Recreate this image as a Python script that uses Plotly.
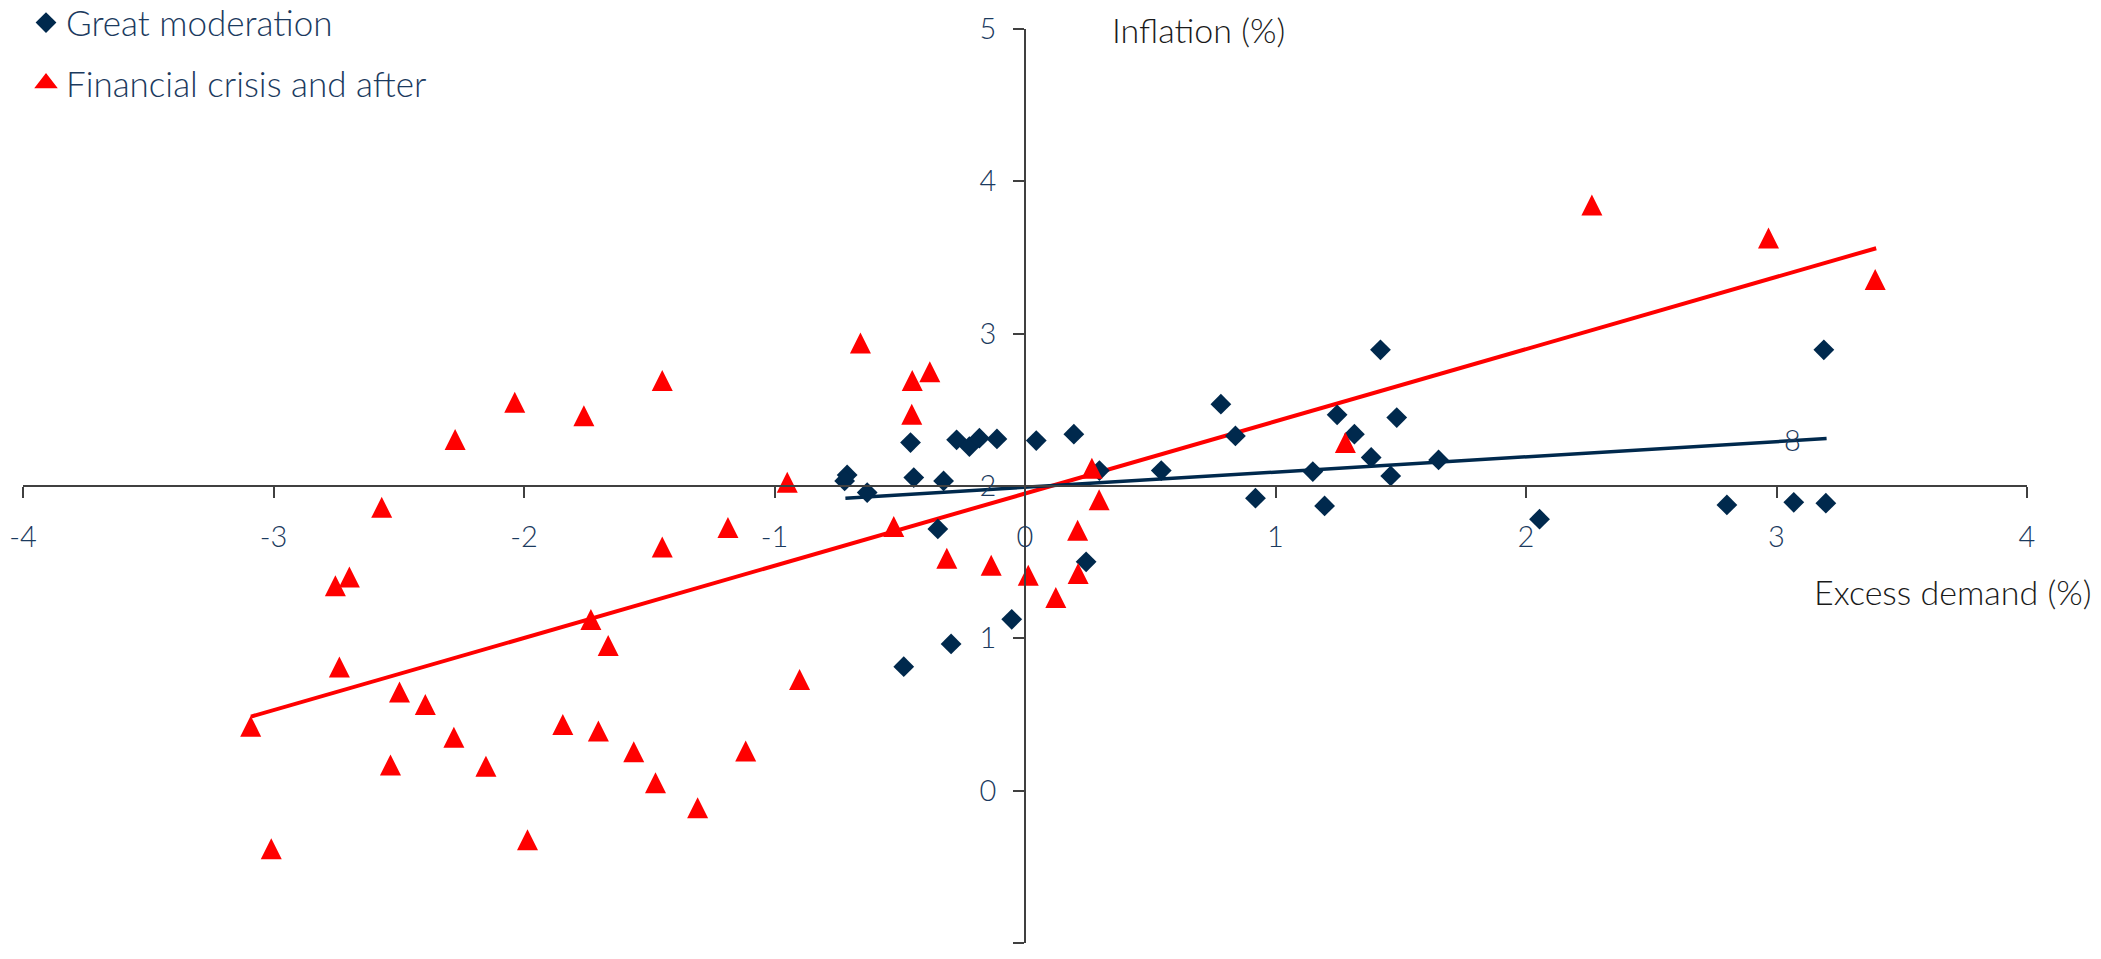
import plotly.graph_objects as go

# Great moderation: excess demand (%) vs inflation (%)
gm_excess = [-0.71, -0.72, -0.63, -0.457, -0.444, -0.325, -0.273, -0.222, -0.182, -0.112,
             -0.348, -0.484, -0.295, -0.053, 0.045, 0.195, 0.244, 0.297, 0.544, 0.782,
             0.84, 0.92, 1.149, 1.196, 1.246, 1.315, 1.382, 1.419, 1.46, 1.484,
             1.651, 2.054, 2.802, 3.069, 3.197, 3.189]
gm_inflation = [2.073, 2.033, 1.957, 2.285, 2.055, 2.033, 2.303, 2.259, 2.314, 2.309,
                1.718, 0.814, 0.963, 1.125, 2.298, 2.34, 1.502, 2.101, 2.101, 2.537,
                2.329, 1.92, 2.095, 1.869, 2.467, 2.34, 2.187, 2.894, 2.066, 2.449,
                2.171, 1.782, 1.876, 1.893, 1.887, 2.894]

# Financial crisis and after
fc_excess = [-3.091, -3.009, -2.753, -2.737, -2.697, -2.568, -2.533, -2.497, -2.394, -2.28,
             -2.275, -2.152, -2.037, -1.986, -1.845, -1.761, -1.733, -1.703, -1.664, -1.562,
             -1.475, -1.448, -1.448, -1.307, -1.186, -1.115, -0.949, -0.9, -0.657, -0.524,
             -0.452, -0.45, -0.38, -0.312, -0.135, 0.013, 0.123, 0.21, 0.212, 0.267,
             0.296, 1.279, 2.263, 2.968, 3.394]
fc_inflation = [0.423, -0.381, 1.345, 0.811, 1.402, 1.86, 0.169, 0.647, 0.566, 0.351,
                2.306, 0.161, 2.549, -0.322, 0.435, 2.461, 1.124, 0.391, 0.953, 0.256,
                0.052, 2.692, 1.60, -0.112, 1.727, 0.26, 2.024, 0.73, 2.938, 1.734,
                2.471, 2.692, 2.75, 1.525, 1.48, 1.414, 1.268, 1.71, 1.425, 2.116,
                1.909, 2.286, 3.845, 3.628, 3.355]

# Linear trend lines (end points)
gm_trend_x = [-0.717, 3.2]
gm_trend_y = [1.92, 2.311]
fc_trend_x = [-3.09, 3.398]
fc_trend_y = [0.486, 3.561]

x_ticks = [-4, -3, -2, -1, 0, 1, 2, 3, 4]
x_tick_text = ["-4", "-3", "-2", "-1", "0", "1", "2", "3", "4"]
y_ticks = [-1, 0, 1, 2, 3, 4, 5]
y_tick_text = ["-1", "0", "1", "2", "3", "4", "5"]

NAVY = "#00294D"
RED = "#FF0000"
TICK_COLOR = "#1B3A5E"
AXIS_COLOR = "#404040"
FONT = "Lato"

W, H = 2101, 959
M_L, M_R, M_T, M_B = 23, 74, 29, 16
plot_h = H - M_T - M_B
y_min, y_max = -1, 5
px_per_unit_y = plot_h / (y_max - y_min)

# Triangle glyph: apex sits on the anchor point, body hangs 2r below.
TRI_SIZE = 21
tri_shift = (TRI_SIZE / 2) / px_per_unit_y

fig = go.Figure()

fig.add_trace(go.Scatter(
    x=fc_trend_x, y=fc_trend_y, mode="lines",
    line=dict(color=RED, width=4), showlegend=False, hoverinfo="skip"))
fig.add_trace(go.Scatter(
    x=gm_trend_x, y=gm_trend_y, mode="lines",
    line=dict(color=NAVY, width=3.5), showlegend=False, hoverinfo="skip"))

fig.add_trace(go.Scatter(
    x=gm_excess, y=gm_inflation, mode="markers", name="Great moderation",
    legendgroup="gm",
    marker=dict(symbol="diamond", size=16, color=NAVY, line=dict(width=0))))

fig.add_trace(go.Scatter(
    x=fc_excess, y=fc_inflation, mode="markers", name="Financial crisis and after",
    yaxis="y2", showlegend=False,
    marker=dict(symbol="arrow-up", size=TRI_SIZE, color=RED, line=dict(width=0))))

# legend entry for the crisis series
fig.add_trace(go.Scatter(
    x=[None], y=[None], mode="markers", name="Financial crisis and after",
    legendgroup="fc",
    marker=dict(symbol="triangle-up", size=16, color=RED, line=dict(width=2.5, color=RED))))

axis_common = dict(
    showgrid=False, zeroline=False, showline=True, linecolor=AXIS_COLOR, linewidth=1.5,
    ticks="outside", tickcolor=AXIS_COLOR, tickwidth=1.5, ticklen=11,
    tickfont=dict(family=FONT, size=29, color=TICK_COLOR, weight=300),
)

fig.update_layout(
    width=W, height=H,
    margin=dict(l=M_L, r=M_R, t=M_T, b=M_B, pad=0, autoexpand=False),
    paper_bgcolor="white", plot_bgcolor="white",
    xaxis=dict(range=[-4, 4], tickvals=x_ticks, ticktext=x_tick_text,
               anchor="free", position=0.5,
               side="bottom", ticklabelstandoff=14, **axis_common),
    yaxis=dict(range=[y_min, y_max], tickvals=y_ticks, ticktext=y_tick_text,
               anchor="free", position=0.5,
               side="left", ticklabelstandoff=11, **axis_common),
    yaxis2=dict(range=[y_min - tri_shift, y_max - tri_shift], overlaying="y",
                visible=False),
    showlegend=True,
    legend=dict(x=0.0015, y=1.039, xanchor="left", yanchor="top",
                traceorder="grouped", tracegroupgap=12,
                font=dict(family=FONT, size=35, color=TICK_COLOR, weight=300),
                bgcolor="rgba(0,0,0,0)", borderwidth=0),
    annotations=[
        dict(text="Inflation (%)", xref="paper", yref="paper", x=0.5424, y=0.999,
             xanchor="left", yanchor="middle", showarrow=False,
             font=dict(family=FONT, size=34, color="#1A1A1A", weight=300)),
        dict(text="Excess demand (%)", xref="paper", yref="paper", x=1.0334, y=0.385,
             xanchor="right", yanchor="middle", showarrow=False,
             font=dict(family=FONT, size=34, color="#1A1A1A", weight=300)),
        dict(text="8", xref="x", yref="y", x=3.065, y=2.303,
             xanchor="center", yanchor="middle", showarrow=False,
             font=dict(family=FONT, size=29, color=TICK_COLOR, weight=300)),
    ],
)

fig.write_html("out.html")
